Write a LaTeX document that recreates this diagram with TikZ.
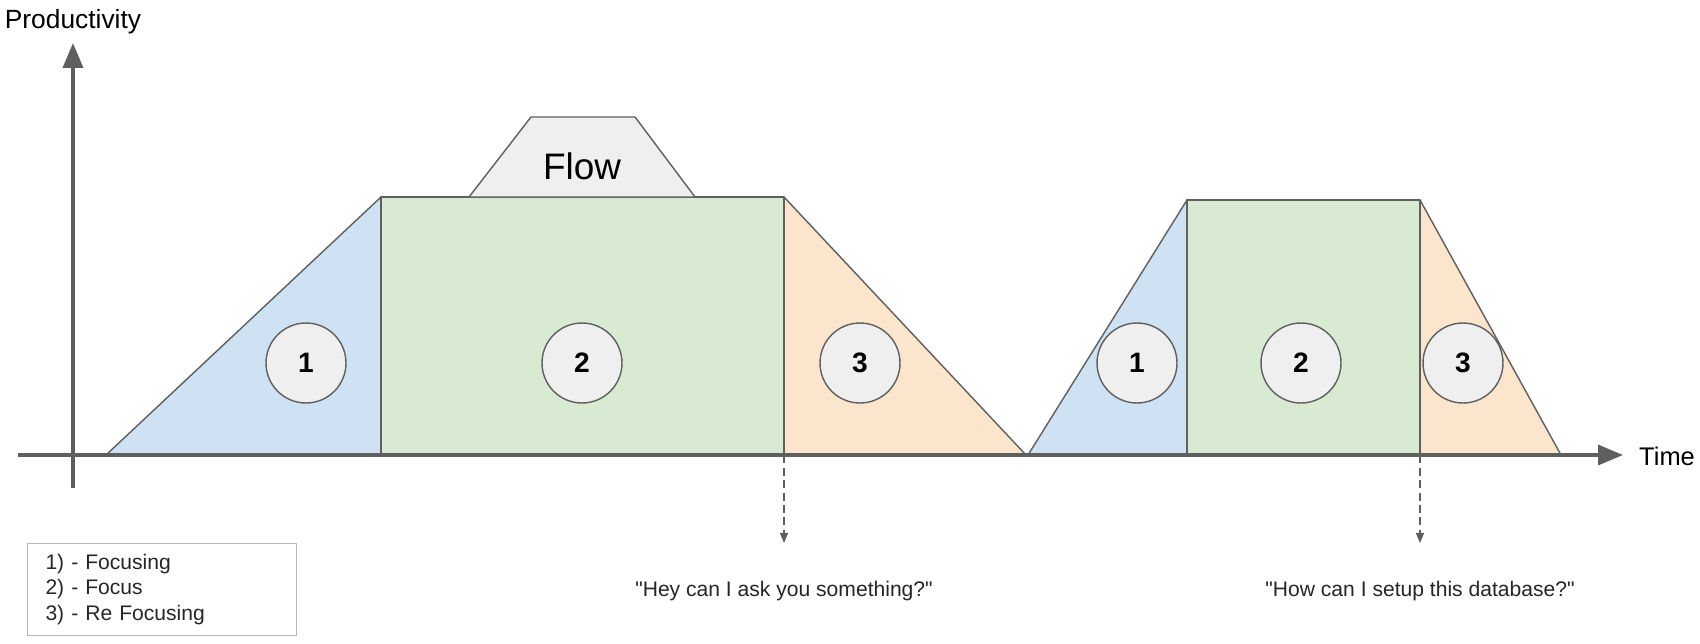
\documentclass[tikz,border=0pt]{standalone}
\usepackage{fontspec}
\setmainfont{Liberation Sans}[Ligatures=TeXOff]
\usetikzlibrary{arrows.meta,positioning}
\definecolor{ink}{HTML}{5F5F5F}
\definecolor{sky}{HTML}{CFE2F3}
\definecolor{sage}{HTML}{D9EAD3}
\definecolor{peach}{HTML}{FCE5CD}
\definecolor{mist}{HTML}{EFEFEF}
\definecolor{rim}{HTML}{B7B7B7}
\tikzset{phase/.style={draw=ink,line width=0.8pt,line join=round},num/.style={circle,draw=ink,fill=mist,line width=0.8pt,minimum size=1.6cm,inner sep=0pt,font=\fontsize{16}{16}\selectfont\bfseries},axis/.style={draw=ink,line width=2pt,-{Triangle[length=5mm,width=4mm]}},ask/.style={draw=ink,line width=0.7pt,dash pattern=on 0.16cm off 0.09cm,-{Triangle[length=2mm,width=1.6mm]},shorten >=0.64cm},lbl/.style={font=\fontsize{12}{14.7}\selectfont,text=black!85}}

\begin{document}
\begin{tikzpicture}[x=0.02cm,y=-0.02cm]
\useasboundingbox (0,0) rectangle (1700,643);
\foreach \a/\b/\c/\d/\t/\s in {106/381/784/1026/197/1.3pt,1028/1187/1420/1561/200/0.8pt}{
\filldraw[phase,fill=sky] (\a,455)--(\b,\t)--(\b,455)--cycle;
\filldraw[phase,fill=sage] (\b,\t) rectangle (\c,455);
\filldraw[phase,fill=peach] (\c,\t)--(\d,455)--(\c,455)--cycle;
\draw[ink,line width=\s] (\b,\t)--(\b,455) (\c,\t)--(\c,455);}
\filldraw[phase,fill=mist] (469,197)--(531,117)--(635,117)--(695,197)--cycle;
\node[font=\fontsize{21}{21}\selectfont] (flow) at (582,166) {Flow};
\foreach \n/\x/\k in {1/306/a1,2/582/a2,3/860/a3,1/1137/b1,2/1301/b2,3/1463/b3}
  \node[num] (\k) at (\x,363) {\n};
\node[font=\fontsize{15}{15}\selectfont] (prod) at (73,22) {Productivity};
\node[font=\fontsize{14.5}{14.5}\selectfont,anchor=west] (time) at (1633,456) {Time};
\coordinate (ybot) at (73,488);
\coordinate (ytop) at (73,43);
\coordinate (xlft) at (18,455);
\coordinate (xrgt) at (1623,455);
\draw[axis] (ybot)--(ytop);
\draw[axis] (xlft)--(xrgt);
\coordinate (i1) at (784,455);
\coordinate (i2) at (1420,455);
\node[lbl] (q1) at (784,591) {"Hey can I ask you something?"};
\node[lbl] (q2) at (1420,591) {"How can I setup this database?"};
\draw[ask] (i1)--(q1.north);
\draw[ask] (i2)--(q2.north);
\node[lbl,draw=rim,line width=0.6pt,anchor=north west,align=left,text width=4.66cm,inner xsep=0.36cm,minimum height=1.84cm] (key) at (27,543) {1) - Focusing\\2) - Focus\\3) - Re Focusing};
\end{tikzpicture}
\end{document}
